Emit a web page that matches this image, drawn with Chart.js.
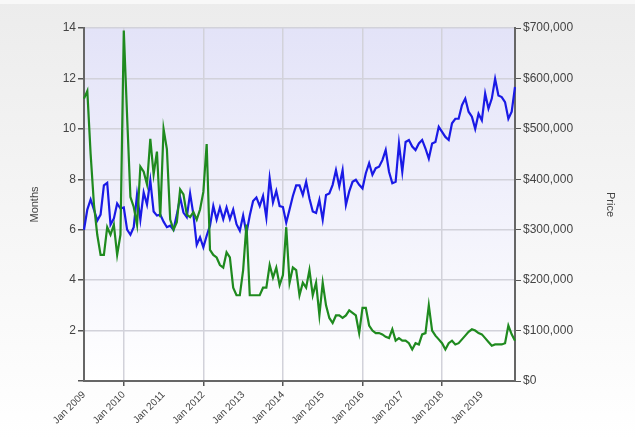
<!DOCTYPE html>
<html>
<head>
<meta charset="utf-8">
<script src="https://cdn.jsdelivr.net/npm/chart.js@4.4.1/dist/chart.umd.min.js"></script>
<style>
  html, body { margin: 0; padding: 0; background: #ffffff; }
  #wrap { width: 635px; height: 439px; position: relative; }
</style>
</head>
<body>
<div id="wrap"><canvas id="c" width="635" height="439"></canvas></div>
<script>
// ---- Data ----
const monthNames = ['Jan','Feb','Mar','Apr','May','Jun','Jul','Aug','Sep','Oct','Nov','Dec'];
const years = [2009,2010,2011,2012,2013,2014,2015,2016,2017,2018,2019];
const monthCount = 131; // Jan 2009 .. Nov 2019

// Months of supply (left axis)
const supplyMonths = [
  11.2, 11.5, 9.0, 7.0, 5.8, 5.0, 5.0, 6.1, 5.8, 6.2, 5.0, 5.8,
  13.9, 10.5, 7.3, 6.9, 6.2, 8.5, 8.3, 7.8, 9.6, 8.2, 9.1, 6.5,
  10.0, 9.2, 6.4, 6.0, 6.3, 7.6, 7.4, 6.6, 6.5, 6.7, 6.4, 6.8,
  7.5, 9.4, 5.2, 5.0, 4.9, 4.6, 4.5, 5.1, 4.9, 3.7, 3.4, 3.4,
  4.4, 6.2, 3.4, 3.4, 3.4, 3.4, 3.7, 3.7, 4.6, 4.1, 4.5, 3.8,
  4.2, 6.1, 3.9, 4.5, 4.4, 3.4, 3.9, 3.7, 4.4, 3.4, 3.9, 2.6,
  3.9, 3.0, 2.5, 2.3, 2.6, 2.6, 2.5, 2.6, 2.8, 2.7, 2.6, 1.9,
  2.9, 2.9, 2.2, 2.0, 1.9, 1.9, 1.85, 1.75, 1.7, 2.05, 1.6, 1.7,
  1.6, 1.6, 1.5, 1.25, 1.5, 1.45, 1.85, 1.9, 3.0, 2.0, 1.8, 1.65,
  1.5, 1.25, 1.5, 1.6, 1.45, 1.5, 1.65, 1.8, 1.95, 2.05, 2.0, 1.9,
  1.85, 1.7, 1.55, 1.4, 1.45, 1.45, 1.45, 1.5, 2.2, 1.85, 1.6
];

// Median price in thousands of dollars (right axis)
const medianPriceK = [
  300, 340, 360, 340, 318, 330, 388, 393, 310, 322, 352, 342,
  344, 300, 290, 305, 370, 320, 374, 350, 398, 336, 328, 330,
  316, 305, 308, 300, 330, 364, 334, 325, 372, 330, 270, 285,
  265, 288, 308, 347, 320, 344, 321, 344, 321, 340, 311, 298,
  328, 293, 328, 357, 364, 347, 367, 324, 402, 354, 377, 347,
  345, 314, 340, 367, 388, 388, 369, 395, 362, 336, 333, 359,
  320, 369, 372, 389, 418, 386, 418, 349, 376, 395, 399, 389,
  382, 412, 432, 409, 422, 425, 438, 458, 415, 392, 395, 471,
  415, 474, 478, 465, 458, 471, 478, 461, 441, 471, 474, 504,
  494, 484, 478, 511, 520, 520, 547, 560, 534, 524, 500, 530,
  517, 570, 540, 560, 599, 566, 563, 553, 520, 534, 583
];

const leftTicks = [2, 4, 6, 8, 10, 12, 14];
const rightTicks = [0, 100000, 200000, 300000, 400000, 500000, 600000, 700000];

// ---- Build labels ----
const labels = [];
for (let i = 0; i < monthCount; i++) {
  const y = years[Math.floor(i / 12)];
  labels.push(monthNames[i % 12] + ' ' + y);
}
const gridYears = [2010, 2012, 2014, 2016, 2018];
function isGridIndex(i) {
  const l = labels[i];
  if (!l || !l.startsWith('Jan')) return false;
  return gridYears.includes(+l.slice(4));
}

const bgPlugin = {
  id: 'bg',
  beforeDraw(chart) {
    const { ctx, chartArea: a, width, height } = chart;
    ctx.save();
    const g = ctx.createLinearGradient(0, 0, 0, height);
    g.addColorStop(0, '#ececec');
    g.addColorStop(1, '#ffffff');
    ctx.fillStyle = g;
    ctx.fillRect(0, 0, width, height);
    ctx.fillStyle = '#f8f8f8';
    ctx.fillRect(0, 0, width, 4);
    const g2 = ctx.createLinearGradient(0, a.top, 0, a.bottom);
    g2.addColorStop(0, '#e3e3f8');
    g2.addColorStop(1, '#ffffff');
    ctx.fillStyle = g2;
    ctx.fillRect(a.left, a.top, a.right - a.left, a.bottom - a.top);
    ctx.restore();
  }
};

const font = { family: 'Liberation Sans, Arial, sans-serif', size: 11 };

new Chart(document.getElementById('c'), {
  type: 'line',
  data: {
    labels: labels,
    datasets: [
      {
        label: 'Months',
        data: supplyMonths,
        yAxisID: 'y',
        borderColor: '#1f8a1f',
        borderWidth: 2.2,
        pointRadius: 0,
        tension: 0,
        fill: false
      },
      {
        label: 'Price',
        data: medianPriceK.map(v => v * 1000),
        yAxisID: 'y2',
        borderColor: '#1a1ae6',
        borderWidth: 2.2,
        pointRadius: 0,
        tension: 0,
        fill: false
      }
    ]
  },
  options: {
    responsive: false,
    animation: false,
    devicePixelRatio: 1,
    layout: { padding: { top: 28, left: 0, right: 0, bottom: 0 } },
    plugins: { legend: { display: false }, tooltip: { enabled: false } },
    scales: {
      x: {
        type: 'category',
        offset: false,
        border: { color: '#666666', width: 2 },
        grid: {
          color: (ctx) => isGridIndex(ctx.index) ? '#d2d2da' : 'rgba(0,0,0,0)',
          tickColor: (ctx) => isGridIndex(ctx.index) ? '#555555' : 'rgba(0,0,0,0)',
          tickLength: 5,
          lineWidth: 1.5
        },
        ticks: {
          autoSkip: false,
          maxRotation: 45,
          minRotation: 45,
          padding: 3,
          color: '#444444',
          font: { family: font.family, size: 10 },
          callback: function (v, i) { return labels[i].startsWith('Jan') ? labels[i] : ''; }
        },
        afterFit(scale) { scale.height = 58; }
      },
      y: {
        position: 'left',
        min: 0,
        max: 14,
        border: { color: '#666666', width: 2 },
        grid: { color: '#d2d2da', tickColor: '#555555', tickLength: 6, lineWidth: 1.5 },
        ticks: {
          stepSize: 2,
          padding: 2,
          color: '#444444',
          font: { family: font.family, size: 12 },
          callback: (v) => leftTicks.includes(v) ? String(v) : ''
        },
        title: {
          display: true,
          text: 'Months',
          color: '#444444',
          font: font,
          padding: { top: 28, bottom: 0 }
        },
        afterFit(scale) { scale.width = 84; }
      },
      y2: {
        position: 'right',
        min: 0,
        max: 700000,
        border: { color: '#666666', width: 2 },
        grid: { drawOnChartArea: false, tickColor: '#555555', tickLength: 6 },
        ticks: {
          stepSize: 100000,
          padding: 2,
          color: '#444444',
          font: { family: font.family, size: 12 },
          callback: (v) => rightTicks.includes(v) ? '$' + v.toLocaleString('en-US') : ''
        },
        title: {
          display: true,
          text: 'Price',
          color: '#444444',
          font: font,
          padding: { top: 18, bottom: 0 }
        },
        afterFit(scale) { scale.width = 120; }
      }
    }
  },
  plugins: [bgPlugin]
});
</script>
</body>
</html>
